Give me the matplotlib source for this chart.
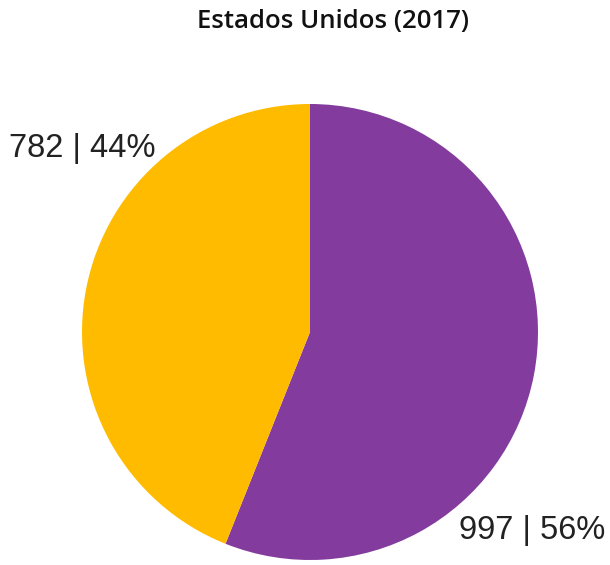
import matplotlib
matplotlib.use("Agg")
import matplotlib.pyplot as plt

# data
labels = ["997 | 56%", "782 | 44%"]
values = [997, 782]
colors = ["#833C9D", "#FFBB00"]
title = "Estados Unidos (2017)"

W, H = 610, 565
fig = plt.figure(figsize=(W / 100, H / 100), dpi=100)

# pie centre ~ (310, 332) px, radius ~228 px
cx, cy, r = 310, 332, 228
ax = fig.add_axes([(cx - r) / W, (H - cy - r) / H, 2 * r / W, 2 * r / H])
ax.pie(values, colors=colors, startangle=90, counterclock=False,
       wedgeprops=dict(linewidth=0))
ax.set_xlim(-1, 1)
ax.set_ylim(-1, 1)
ax.set_aspect("equal")
ax.axis("off")

fig.text(333 / W, 1 - 22 / H, title, ha="center", va="center",
         fontsize=18.5, fontweight="semibold", family="Open Sans", color="#111111")

# slice labels
fig.text(9 / W, 1 - 148 / H, labels[1], ha="left", va="center",
         fontsize=23.5, family="Liberation Sans", color="#222222")
fig.text(605 / W, 1 - 530 / H, labels[0], ha="right", va="center",
         fontsize=23.5, family="Liberation Sans", color="#222222")

fig.savefig("out.png", dpi=100)
